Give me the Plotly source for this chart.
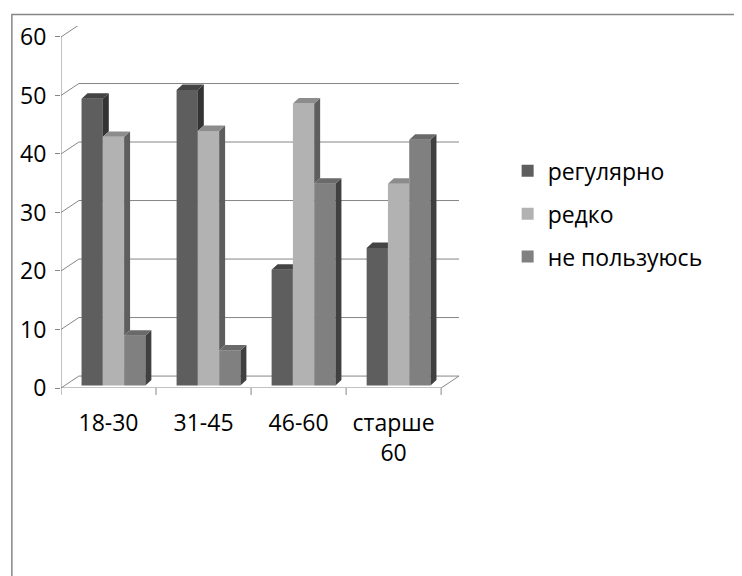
import plotly.graph_objects as go

# ---------------- data ----------------
categories = ["18-30", "31-45", "46-60", "старше<br>60"]
series_names = ["регулярно", "редко", "не пользуюсь"]
regularly = [49.0, 50.5, 19.8, 23.5]
rarely = [42.5, 43.5, 48.2, 34.5]
not_using = [8.5, 6.0, 34.5, 42.0]
y_ticks = [0, 10, 20, 30, 40, 50, 60]

# ---------------- styles ----------------
front_colors = ["#5e5e5e", "#b2b2b2", "#808080"]
top_colors = ["#444444", "#8c8c8c", "#6a6a6a"]
side_colors = ["#333333", "#5e5e5e", "#404040"]
grid_color = "#868686"
FONT = "Open Sans"
FS = 23

W, H = 742, 576
OFF = 8                                   # page body margin
L, RP, T, B = 58 - OFF, 459 - OFF, 24 - OFF, 388 - OFF   # plot-area pixel box
UX = (441 - 58) / 4                      # px per category
UY = (388 - 35) / 60                     # px per value unit
x_lo = -0.5
x_hi = x_lo + (RP - L) / UX
y_hi = (B - T) / UY
wall_dx, wall_dy = 18 / UX, 12 / UY      # depth of the walls
bar_dx, bar_dy = 5 / UX, 2.5 / UY        # bar front-face depth offset
face_dx, face_dy = 6 / UX, 5.5 / UY      # bar depth
bargap = 0.328
bw = (1 - bargap) / 3

series = [regularly, rarely, not_using]
n = len(categories)

fig = go.Figure()

# front faces (real bars)
for k, (name, vals) in enumerate(zip(series_names, series)):
    fig.add_trace(go.Bar(
        x=[i + bar_dx for i in range(n)], y=vals, base=bar_dy,
        width=bw, offset=(k - 1.5) * bw,
        name=name, legendgroup=name,
        marker=dict(color=front_colors[k], line=dict(width=0)),
        hoverinfo="y",
    ))

# 3D side and top faces derived from the same values
for k, vals in enumerate(series):
    sx, sy, tx, ty = [], [], [], []
    for i in range(n):
        x0 = i + bar_dx + (k - 1.5) * bw
        x1 = x0 + bw
        b = bar_dy
        t = b + vals[i]
        nxt_top = b + series[k + 1][i] if k < 2 else None
        # side face
        lower = None
        if nxt_top is None:
            lower = b
        elif nxt_top < t:
            lower = nxt_top
        if lower is not None:
            sx += [x1, x1 + face_dx, x1 + face_dx, x1, x1, None]
            sy += [lower, lower + face_dy, t + face_dy, t, lower, None]
        # top face
        if nxt_top is None or nxt_top <= t:
            tx += [x0, x1, x1 + face_dx, x0 + face_dx, x0, None]
            ty += [t, t, t + face_dy, t + face_dy, t, None]
        else:
            tx += [x0, x1, x1, x0 + face_dx, x0, None]
            ty += [t, t, t + face_dy, t + face_dy, t, None]
    for xs, ys, col in ((sx, sy, side_colors[k]), (tx, ty, top_colors[k])):
        if xs:
            fig.add_trace(go.Scatter(
                x=xs, y=ys, mode="lines", fill="toself", fillcolor=col,
                line=dict(width=0, color=col), showlegend=False,
                hoverinfo="skip",
            ))

shapes = []
# walls / gridlines
for v in y_ticks:
    shapes.append(dict(type="line", xref="x", yref="y", layer="below",
                       x0=x_lo + wall_dx, x1=x_lo + n + wall_dx,
                       y0=v + wall_dy, y1=v + wall_dy,
                       line=dict(color=grid_color, width=1)))
    shapes.append(dict(type="line", xref="x", yref="y", layer="below",
                       x0=x_lo, x1=x_lo + wall_dx, y0=v, y1=v + wall_dy,
                       line=dict(color=grid_color, width=1)))
# front-left vertical axis line
shapes.append(dict(type="line", xref="x", yref="y", layer="below",
                   x0=x_lo, x1=x_lo, y0=0, y1=max(y_ticks),
                   line=dict(color=grid_color, width=1)))
# floor front edge and right edge
shapes.append(dict(type="line", xref="x", yref="y", layer="below",
                   x0=x_lo, x1=x_lo + n, y0=0, y1=0,
                   line=dict(color=grid_color, width=1)))
shapes.append(dict(type="line", xref="x", yref="y", layer="below",
                   x0=x_lo + n, x1=x_lo + n + wall_dx, y0=0, y1=wall_dy,
                   line=dict(color=grid_color, width=1)))
# category boundary ticks
for i in range(n + 1):
    shapes.append(dict(type="line", xref="x", yref="paper", layer="below",
                       x0=x_lo + i, x1=x_lo + i, y0=0, y1=-7 / (B - T),
                       line=dict(color=grid_color, width=1)))
# outer chart frame
shapes.append(dict(type="rect", xref="paper", yref="paper", layer="below",
                   x0=(0.5 - L) / (RP - L), x1=3, y0=-3, y1=(B - 4.5) / (B - T),
                   line=dict(color=grid_color, width=1.5)))

fig.update_layout(
    width=W, height=H,
    margin=dict(l=L, r=W - RP, t=T, b=H - B, pad=0),
    paper_bgcolor="white", plot_bgcolor="white",
    barmode="overlay",
    showlegend=True,
    font=dict(family=FONT, size=FS, color="black"),
    legend=dict(x=(500 - L) / (RP - L), xanchor="left",
                y=(B - 140) / (B - T), yanchor="top",
                font=dict(family=FONT, size=FS, color="black"),
                tracegroupgap=10, bgcolor="rgba(0,0,0,0)"),
    xaxis=dict(range=[x_lo, x_hi], tickvals=list(range(n)), ticktext=categories,
               ticks="", showgrid=False, zeroline=False, showline=False,
               ticklabelstandoff=19, tickfont=dict(family=FONT, size=FS, color="black")),
    yaxis=dict(range=[0, y_hi], tickvals=y_ticks, ticks="outside", ticklen=5,
               tickcolor=grid_color, showgrid=False, zeroline=False, showline=False,
               ticklabelstandoff=4, tickfont=dict(family=FONT, size=FS, color="black")),
    shapes=shapes,
)

fig.write_html("out.html")
